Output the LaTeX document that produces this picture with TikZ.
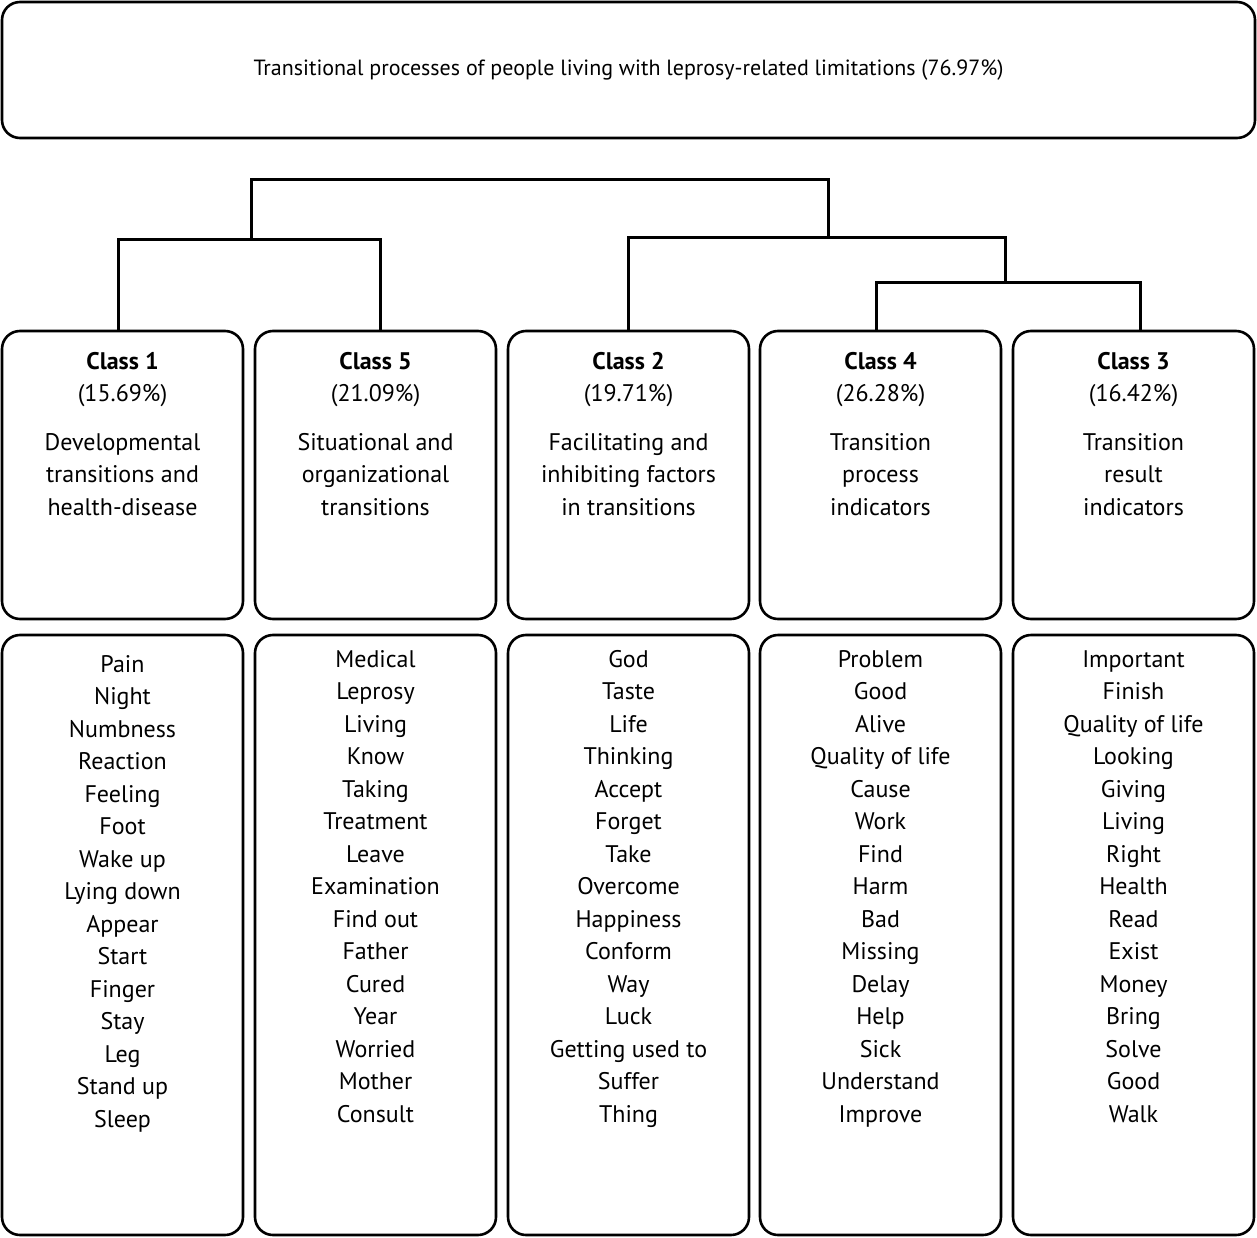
\documentclass[tikz,border=0pt]{standalone}
\usepackage{fontspec}
\setmainfont{PT Sans}
\usetikzlibrary{positioning}
\tikzset{
  box/.style={draw,line width=2.6pt,rounded corners=18pt,minimum width=241pt,inner sep=0pt},
  head/.style={box,minimum height=288pt},
  list/.style={box,minimum height=600pt},
  txt/.style={align=center,font=\fontsize{24}{32.5}\selectfont,anchor=north,inner sep=0pt},
  tree/.style={line width=3pt}
}
\begin{document}
\begin{tikzpicture}[x=1pt,y=-1pt]
  \useasboundingbox (0,0) rectangle (1257,1238);
  \node[box,minimum width=1253pt,minimum height=136pt] (top) at (628.5,70)
    {\fontsize{22}{26}\selectfont Transitional processes of people living with leprosy-related limitations (76.97\%)};

  \foreach \n/\x/\c/\p/\d in {
      c1/122.5/1/15.69/{Developmental\\transitions and\\health-disease},
      c5/375.5/5/21.09/{Situational and\\organizational\\transitions},
      c2/628.5/2/19.71/{Facilitating and\\inhibiting factors\\in transitions},
      c4/880.5/4/26.28/{Transition\\process\\indicators},
      c3/1133.5/3/16.42/{Transition\\result\\indicators}} {
    \node[head] (\n) at (\x,475) {};
    \node[txt] at (\x,352) {\textbf{Class \c}\\(\p\%)\\[16pt]\d};
    \node[list] (\n l) at (\x,935) {};
  }

  \node[txt] at (122.5,655) {Pain\\Night\\Numbness\\Reaction\\Feeling\\Foot\\Wake up\\Lying down\\Appear\\Start\\Finger\\Stay\\Leg\\Stand up\\Sleep};
  \node[txt] at (375.5,650) {Medical\\Leprosy\\Living\\Know\\Taking\\Treatment\\Leave\\Examination\\Find out\\Father\\Cured\\Year\\Worried\\Mother\\Consult};
  \node[txt] at (628.5,650) {God\\Taste\\Life\\Thinking\\Accept\\Forget\\Take\\Overcome\\Happiness\\Conform\\Way\\Luck\\Getting used to\\Suffer\\Thing};
  \node[txt] at (880.5,650) {Problem\\Good\\Alive\\Quality of life\\Cause\\Work\\Find\\Harm\\Bad\\Missing\\Delay\\Help\\Sick\\Understand\\Improve};
  \node[txt] at (1133.5,650) {Important\\Finish\\Quality of life\\Looking\\Giving\\Living\\Right\\Health\\Read\\Exist\\Money\\Bring\\Solve\\Good\\Walk};

  % dendrogram
  \coordinate (j15) at (251,240);
  \coordinate (j43) at (1005,283);
  \coordinate (j243) at (828,238);
  \draw[tree] (c1.north -| 118,0) |- (j15) -| (c5.north -| 380,0);
  \draw[tree] (c4.north -| 876,0) |- (j43) -| (c3.north -| 1140,0);
  \draw[tree] (c2.north) |- (j243) -| (j43);
  \draw[tree] (j15) |- (251,180) -| (j243);
\end{tikzpicture}
\end{document}
